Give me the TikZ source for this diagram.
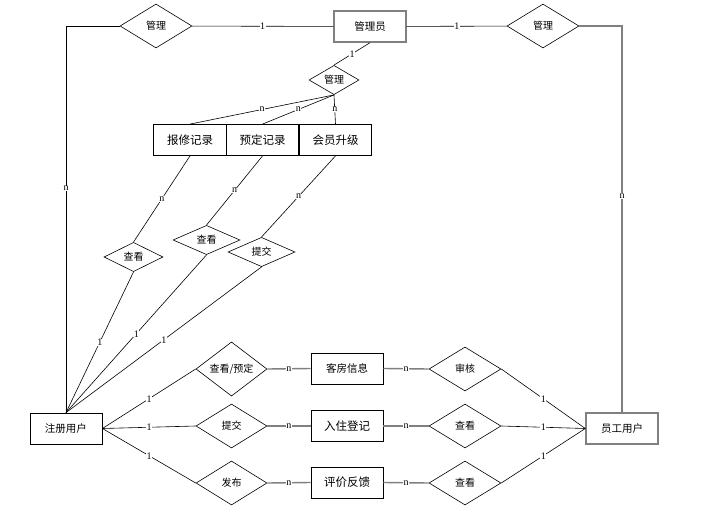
\documentclass[tikz,border=0pt]{standalone}
\usepackage{fontspec}
\setmainfont{Liberation Serif}
\newfontfamily\cjk{Noto Sans CJK SC}
\usetikzlibrary{shapes.geometric}

\begin{document}
\begin{tikzpicture}[x=1pt, y=-1pt,
  entity/.style={draw, rectangle, line width=0.8pt, minimum width=72pt, minimum height=31pt,
    inner sep=0pt, font=\cjk\fontsize{10.5}{12}\selectfont},
  bigtext/.style={font=\cjk\fontsize{11.5}{13}\selectfont},
  rel/.style={draw, diamond, line width=0.6pt, inner sep=0pt, font=\cjk\fontsize{10}{12}\selectfont},
  card/.style={fill=white, inner sep=0.4pt, font=\fontsize{10}{11}\selectfont},
  thin/.style={line width=0.6pt},
  grayline/.style={draw=gray, line width=1.4pt}]
\useasboundingbox (0,0) rectangle (705,525);

% draw the administrator and its relations
\node[entity, grayline] (admin) at (370,26.5) {管理员};
\node[rel, minimum width=72pt, minimum height=44pt] (mgrL) at (156,26) {管理};
\node[rel, minimum width=72pt, minimum height=44pt] (mgrR) at (543,26) {管理};
\node[rel, minimum width=50pt, minimum height=29pt] (mgrM) at (334,80) {管理};

% draw the three record boxes
\node[entity, bigtext, minimum width=72.5pt] (repair) at (190,140) {报修记录};
\node[entity, bigtext, minimum width=72.5pt] (booking) at (262.5,140) {预定记录};
\node[entity, bigtext, minimum width=72.5pt] (member) at (335.5,140) {会员升级};

% relations of the records
\node[rel, minimum width=59pt, minimum height=24pt] (viewA) at (133.5,257) {查看};
\node[rel, minimum width=67pt, minimum height=27pt] (viewB) at (206.5,240) {查看};
\node[rel, minimum width=67pt, minimum height=28pt] (submitA) at (261.5,252) {提交};

% the two users
\node[entity] (user) at (66,428.5) {注册用户};
\node[entity, grayline] (staff) at (622,428.5) {员工用户};

% the three rows at the bottom
\node[rel, minimum width=71pt, minimum height=44pt] (bookR) at (231.5,369) {查看/预定};
\node[rel, minimum width=71pt, minimum height=44pt] (checkinR) at (231.5,426) {提交};
\node[rel, minimum width=71pt, minimum height=44pt] (postR) at (231.5,483) {发布};
\node[entity] (room) at (347,368.5) {客房信息};
\node[entity, bigtext] (checkin) at (347,426) {入住登记};
\node[entity, bigtext] (review) at (347,482.5) {评价反馈};
\node[rel, minimum width=72pt, minimum height=44pt] (auditR) at (465,369) {审核};
\node[rel, minimum width=72pt, minimum height=44pt] (viewC) at (465,426) {查看};
\node[rel, minimum width=72pt, minimum height=44pt] (viewD) at (465,483) {查看};

% lines of the top part
\draw[thin] (mgrL) -- (admin) node[card, midway] {1};
\draw[thin] (admin) -- (mgrR) node[card, midway] {1};
\draw[thin] (mgrL.west) -| (user.north) node[card, pos=0.71] {n};
\draw[grayline] (mgrR.east) -| (staff.north) node[card, pos=0.72] {n};
\draw[thin] (admin.south) -- (mgrM.north) node[card, midway] {1};
\foreach \b in {repair, booking, member}
  \draw[thin] (mgrM.south) -- (\b.north) node[card, midway] {n};

% lines from the records to the registered user
\foreach \a/\b in {repair/viewA, booking/viewB, member/submitA} {
  \draw[thin] (\a.south) -- (\b.north) node[card, midway] {n};
  \draw[thin] (\b.south) -- (user.north) node[card, midway] {1};
}

% lines of the bottom rows
\foreach \a/\b/\c in {bookR/room/auditR, checkinR/checkin/viewC, postR/review/viewD} {
  \draw[thin] (user.east) -- (\a.west) node[card, midway] {1};
  \draw[grayline] (\a.east) -- (\b.west) node[card, midway] {n};
  \draw[grayline] (\b.east) -- (\c.west) node[card, midway] {n};
  \draw[thin] (\c.east) -- (staff.west) node[card, midway] {1};
}
\end{tikzpicture}
\end{document}
